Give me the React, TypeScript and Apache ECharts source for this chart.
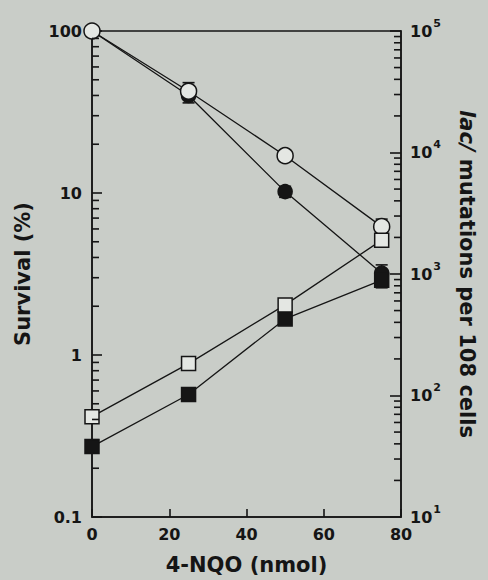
import React, { useEffect, useRef } from "react";
import * as echarts from "echarts";

const doses = [0, 25, 50, 75];
const survivalOpen = [100, 42.5, 17, 6.2];
const survivalFilled = [100, 40, 10.2, 3.2];
const mutOpen = [67, 183, 557, 1900];
const mutFilled = [38, 102, 427, 890];

// [x, low, high]
const survivalErr = [
  [25, 36, 48],
  [50, 15.8, 18.3],
  [75, 5.5, 6.9],
  [50, 9.4, 11],
  [75, 2.8, 3.6],
];
const mutErr = [
  [25, 170, 196],
  [50, 520, 600],
  [75, 1700, 2080],
  [25, 95, 108],
  [50, 400, 455],
  [75, 770, 1010],
];

const xTicks = [0, 20, 40, 60, 80];
const leftDecades = [0.1, 1, 10, 100];
const rightDecades = [10, 100, 1000, 10000, 100000];
const multipliers = [2, 3, 4, 5, 6, 7, 8, 9];

const leftMinor = leftDecades.slice(0, -1).flatMap((d) => multipliers.map((m) => d * m));
const rightMinor = rightDecades.slice(0, -1).flatMap((d) => multipliers.map((m) => d * m));

const INK = "#151515";
const BG = "#c9cdc8";
const FONT = "'DejaVu Sans', 'Liberation Sans', Arial, sans-serif";

export default function App() {
  const ref = useRef<HTMLDivElement>(null);
  useEffect(() => {
    document.body.style.margin = "0";
    const chart = echarts.init(ref.current!, null, { renderer: "svg" });

    const tickSeries = (values: number[], axisIndex: number, xVal: number, len: number) => ({
      type: "custom",
      yAxisIndex: axisIndex,
      silent: true,
      clip: false,
      z: 5,
      data: values.map((v) => [xVal, v]),
      renderItem: (params: any, api: any) => {
        const p = api.coord([api.value(0), api.value(1)]);
        return {
          type: "line",
          shape: { x1: p[0], y1: p[1], x2: p[0] + len, y2: p[1] },
          style: { stroke: INK, lineWidth: 1.6 },
        };
      },
    });

    const errSeries = (data: number[][], axisIndex: number) => ({
      type: "custom",
      yAxisIndex: axisIndex,
      silent: true,
      clip: false,
      z: 2,
      data,
      renderItem: (params: any, api: any) => {
        const lo = api.coord([api.value(0), api.value(1)]);
        const hi = api.coord([api.value(0), api.value(2)]);
        const w = 6;
        return {
          type: "group",
          children: [
            { type: "line", shape: { x1: lo[0], y1: lo[1], x2: hi[0], y2: hi[1] }, style: { stroke: INK, lineWidth: 1.3 } },
            { type: "line", shape: { x1: lo[0] - w, y1: lo[1], x2: lo[0] + w, y2: lo[1] }, style: { stroke: INK, lineWidth: 1.6 } },
            { type: "line", shape: { x1: hi[0] - w, y1: hi[1], x2: hi[0] + w, y2: hi[1] }, style: { stroke: INK, lineWidth: 1.6 } },
          ],
        };
      },
    });

    const lineSeries = (vals: number[], axisIndex: number, symbol: string, size: number, filled: boolean) => ({
      type: "line",
      yAxisIndex: axisIndex,
      data: doses.map((d, i) => [d, vals[i]]),
      symbol,
      symbolSize: size,
      showAllSymbol: true,
      z: filled ? 3 : 4,
      lineStyle: { color: INK, width: 1.3 },
      itemStyle: { color: filled ? INK : "#e4e7e3", borderColor: INK, borderWidth: 1.5 },
      emphasis: { disabled: true },
    });

    const labelStyle = { color: INK, fontFamily: FONT, fontWeight: "bold" as const, fontSize: 16 };

    chart.setOption({
      animation: false,
      backgroundColor: BG,
      grid: { left: 92, right: 87, top: 31, bottom: 60, show: true, borderColor: INK, borderWidth: 1.5, backgroundColor: "transparent" },
      xAxis: {
        type: "value",
        min: 0,
        max: 80,
        interval: 20,
        name: "4-NQO (nmol)",
        nameLocation: "middle",
        nameGap: 37,
        nameTextStyle: { ...labelStyle, fontSize: 21 },
        axisLine: { lineStyle: { color: INK, width: 1.5 } },
        axisTick: { inside: true, length: 8, lineStyle: { color: INK, width: 1.6 } },
        axisLabel: { ...labelStyle, fontSize: 16, margin: 9, formatter: (v: number) => (xTicks.includes(v) ? String(v) : "") },
        splitLine: { show: false },
      },
      yAxis: [
        {
          type: "log",
          logBase: 10,
          min: 0.1,
          max: 100,
          position: "left",
          name: "Survival (%)",
          nameLocation: "middle",
          nameRotate: 90,
          nameGap: 59,
          nameTextStyle: { ...labelStyle, fontSize: 21 },
          axisLine: { lineStyle: { color: INK, width: 1.5 } },
          axisTick: { inside: true, length: 10, lineStyle: { color: INK, width: 1.6 } },
          axisLabel: { ...labelStyle, fontSize: 16, margin: 10, formatter: (v: number) => String(v) },
          splitLine: { show: false },
        },
        {
          type: "log",
          logBase: 10,
          min: 10,
          max: 100000,
          position: "right",
          name: "{i|lac/} mutations per 108 cells",
          nameLocation: "middle",
          nameRotate: -90,
          nameGap: 55,
          nameTextStyle: {
            ...labelStyle,
            fontSize: 21,
            rich: { i: { ...labelStyle, fontSize: 21, fontStyle: "italic" } },
          },
          axisLine: { lineStyle: { color: INK, width: 1.5 } },
          axisTick: { inside: true, length: 11, lineStyle: { color: INK, width: 1.6 } },
          axisLabel: {
            ...labelStyle,
            margin: 9,
            formatter: (v: number) => `{b|10}{s|${Math.round(Math.log10(v))}}`,
            rich: {
              b: { ...labelStyle, fontSize: 16 },
              s: { ...labelStyle, fontSize: 11, verticalAlign: "top", padding: [0, 0, 16, 1] },
            },
          },
          splitLine: { show: false },
        },
      ],
      series: [
        tickSeries(leftMinor, 0, 0, 7),
        tickSeries(rightMinor, 1, 80, -7),
        errSeries(survivalErr, 0),
        errSeries(mutErr, 1),
        lineSeries(survivalFilled, 0, "circle", 14, true),
        lineSeries(survivalOpen, 0, "circle", 16, false),
        lineSeries(mutFilled, 1, "rect", 14, true),
        lineSeries(mutOpen, 1, "rect", 14, false),
      ],
    });
    return () => chart.dispose();
  }, []);
  return <div ref={ref} style={{ width: 488, height: 580, background: BG }} />;
}
